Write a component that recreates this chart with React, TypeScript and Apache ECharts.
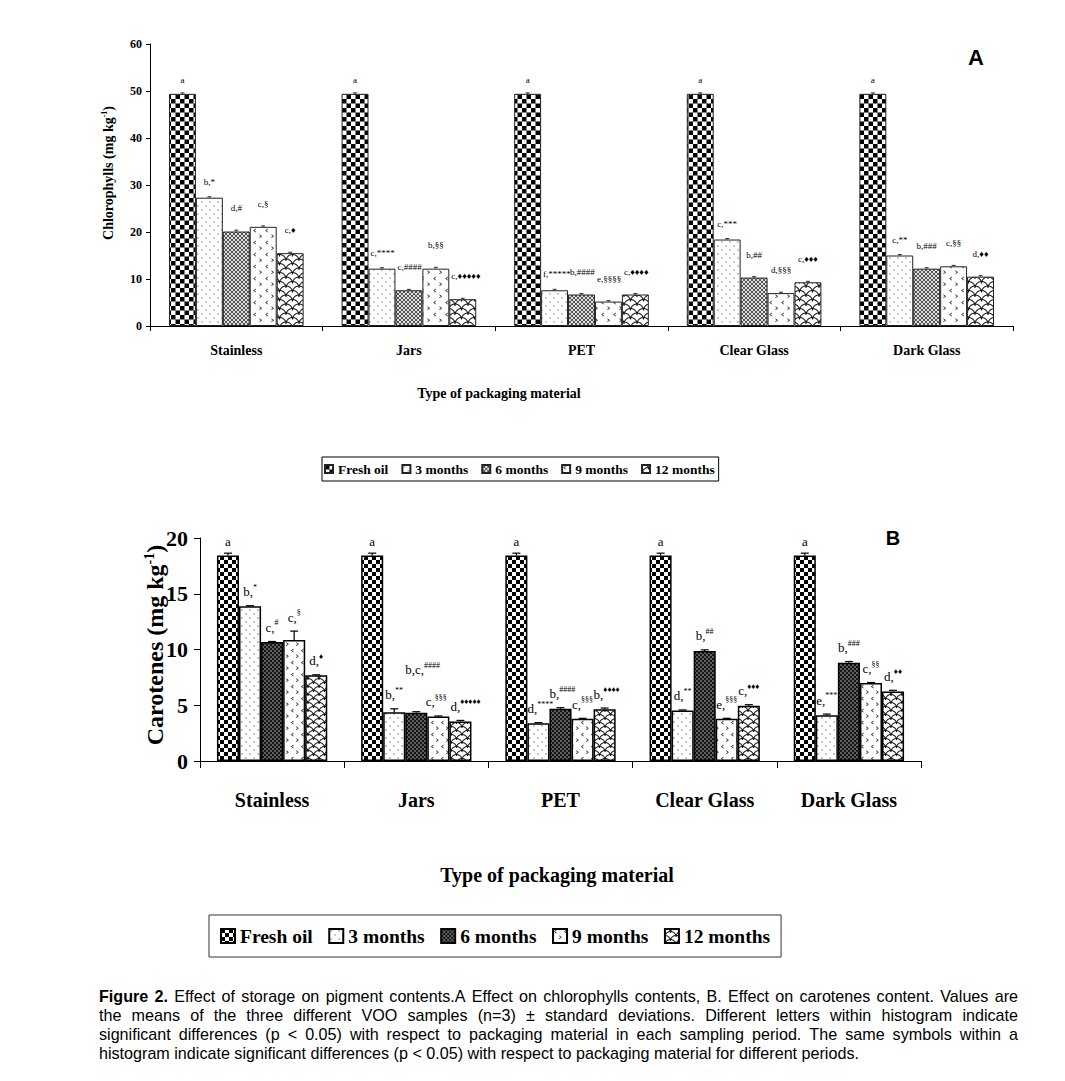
import React, { useEffect, useRef } from 'react';
import * as echarts from 'echarts';

// ---------- DATA ----------
const CATEGORIES = ['Stainless', 'Jars', 'PET', 'Clear Glass', 'Dark Glass'];
const PERIODS = ['Fresh oil', '3 months', '6 months', '9 months', '12 months'];

// Panel A: chlorophylls (mg/kg)
const CHL_FRESH = [49.4, 49.4, 49.4, 49.4, 49.4];
const CHL_3M = [27.3, 12.2, 7.6, 18.4, 15.0];
const CHL_6M = [20.1, 7.6, 6.7, 10.3, 12.2];
const CHL_9M = [21.1, 12.2, 5.2, 7.0, 12.7];
const CHL_12M = [15.5, 5.7, 6.7, 9.3, 10.5];
const CHL_ERR_FRESH = [0.2, 0.2, 0.2, 0.2, 0.2];
const CHL_ERR_3M = [0.2, 0.2, 0.2, 0.2, 0.2];
const CHL_ERR_6M = [0.3, 0.2, 0.2, 0.2, 0.2];
const CHL_ERR_9M = [0.2, 0.3, 0.2, 0.2, 0.2];
const CHL_ERR_12M = [0.2, 0.2, 0.2, 0.2, 0.2];
const CHL_LBL_FRESH = ['a', 'a', 'a', 'a', 'a'];
const CHL_LBL_3M = ['b,*', 'c,****', 'f,*****', 'c,***', 'c,**'];
const CHL_LBL_6M = ['d,#', 'c,####', 'b,####', 'b,##', 'b,###'];
const CHL_LBL_9M = ['c,§', 'b,§§', 'e,§§§§', 'd,§§§', 'c,§§'];
const CHL_LBL_12M = ['c,♦', 'c,♦♦♦♦♦', 'c,♦♦♦♦', 'c,♦♦♦', 'd,♦♦'];
const CHL_MIN = 0;
const CHL_MAX = 60;
const CHL_STEP = 10;

// Panel B: carotenes (mg/kg)
const CAR_FRESH = [18.44, 18.44, 18.44, 18.44, 18.44];
const CAR_3M = [13.88, 4.38, 3.39, 4.53, 4.11];
const CAR_6M = [10.67, 4.32, 4.68, 9.87, 8.82];
const CAR_9M = [10.85, 3.99, 3.78, 3.78, 6.99];
const CAR_12M = [7.68, 3.54, 4.65, 4.95, 6.24];
const CAR_ERR_FRESH = [0.2, 0.2, 0.2, 0.2, 0.2];
const CAR_ERR_3M = [0.05, 0.3, 0.05, 0.05, 0.1];
const CAR_ERR_6M = [0.05, 0.1, 0.1, 0.1, 0.1];
const CAR_ERR_9M = [0.8, 0.05, 0.05, 0.05, 0.05];
const CAR_ERR_12M = [0.05, 0.1, 0.1, 0.1, 0.1];
const CAR_LBL_FRESH = ['a', 'a', 'a', 'a', 'a'];
const CAR_LBL_3M = ['b,*', 'b,**', 'd,****', 'd,**', 'e,***'];
const CAR_LBL_6M = ['c,#', 'b,c,####', 'b,####', 'b,##', 'b,###'];
const CAR_LBL_9M = ['c,§', 'c,§§§', 'c,§§§', 'e,§§§', 'c,§§'];
const CAR_LBL_12M = ['d,♦', 'd,♦♦♦♦♦', 'b,♦♦♦♦', 'c,♦♦♦', 'd,♦♦'];
const CAR_MIN = 0;
const CAR_MAX = 20;
const CAR_STEP = 5;

const CAPTION_LINES = [
  'Figure 2. Effect of storage on pigment contents.A Effect on chlorophylls contents, B. Effect on carotenes content. Values are',
  'the means of the three different VOO samples (n=3) ± standard deviations. Different letters within histogram indicate',
  'significant differences (p < 0.05) with respect to packaging material in each sampling period. The same symbols within a',
  'histogram indicate significant differences (p < 0.05) with respect to packaging material for different periods.',
];

// ---------- STYLE ----------
const SERIF = '"Liberation Serif", "Times New Roman", Times, serif';
const SANS = '"Liberation Sans", Arial, sans-serif';
const CAPTION_FONT = '"Liberation Sans Narrow", "Arial Narrow", "Liberation Sans", Arial, sans-serif';
const ZW = '\u200b';

let measureCtx: CanvasRenderingContext2D | null = null;
function textWidth(t: string, font: string) {
  if (!measureCtx) measureCtx = document.createElement('canvas').getContext('2d');
  measureCtx!.font = font;
  return measureCtx!.measureText(t).width;
}

function tile(w: number, h: number, k: number, draw: (c: CanvasRenderingContext2D, w: number, h: number) => void) {
  const cv = document.createElement('canvas');
  cv.width = Math.round(w * k);
  cv.height = Math.round(h * k);
  const ctx = cv.getContext('2d')!;
  ctx.scale(k, k);
  ctx.fillStyle = '#fff';
  ctx.fillRect(0, 0, w, h);
  draw(ctx, w, h);
  return { image: cv, repeat: 'repeat', imageWidth: w, imageHeight: h };
}

const checker = (cell: number) =>
  tile(cell * 2, cell * 2, 4, (c, w, h) => {
    c.fillStyle = '#000';
    c.fillRect(0, 0, w / 2, h / 2);
    c.fillRect(w / 2, h / 2, w / 2, h / 2);
  });

const dots = (s: number, color: string) =>
  tile(s, s, 4, (c, w, h) => {
    c.fillStyle = color;
    c.beginPath();
    c.arc(w * 0.25, h * 0.25, 0.6, 0, Math.PI * 2);
    c.fill();
    c.beginPath();
    c.arc(w * 0.75, h * 0.75, 0.6, 0, Math.PI * 2);
    c.fill();
  });

const mesh = () =>
  tile(4, 4, 4, (c, w, h) => {
    c.strokeStyle = '#222';
    c.lineWidth = 0.75;
    c.beginPath();
    c.moveTo(0, 0); c.lineTo(w, h);
    c.moveTo(w, 0); c.lineTo(0, h);
    c.stroke();
  });

const darkMesh = () =>
  tile(4, 4, 4, (c, w, h) => {
    c.fillStyle = '#151515';
    c.fillRect(0, 0, w, h);
    c.fillStyle = '#bbb';
    c.beginPath(); c.arc(1, 1, 0.75, 0, Math.PI * 2); c.fill();
    c.beginPath(); c.arc(3, 3, 0.75, 0, Math.PI * 2); c.fill();
  });

const chevrons = (w0: number, h0: number) =>
  tile(w0, h0, 4, (c, w, h) => {
    c.strokeStyle = '#333';
    c.lineWidth = 0.8;
    const x0 = w * 0.15, y0 = h * 0.08;
    c.beginPath();
    c.moveTo(x0 + 2, y0); c.lineTo(x0, y0 + 1.6); c.lineTo(x0 + 2, y0 + 3.2);
    c.stroke();
    const x1 = w * 0.62, y1 = h * 0.55;
    c.beginPath();
    c.moveTo(x1, y1); c.lineTo(x1 + 2, y1 + 1.6); c.lineTo(x1, y1 + 3.2);
    c.stroke();
  });

const scales = (w0: number, h0: number, lw: number) =>
  tile(w0, h0, 4, (c, w, h) => {
    c.strokeStyle = '#111';
    c.lineWidth = lw;
    const r = w / 2;
    const domes = [[0, h / 2], [w, h / 2], [w / 2, h], [0, h * 1.5], [w, h * 1.5], [w / 2, 0]];
    domes.forEach(([cx, cy]) => {
      c.beginPath();
      c.arc(cx, cy, r, Math.PI, Math.PI * 2);
      c.stroke();
    });
  });

type Item = { cat: number; s: number; value: number; err: number; label: string; w: number };

function buildItems(vals: number[][], errs: number[][], labels: string[][], widthOf: (l: string) => number): Item[] {
  const out: Item[] = [];
  vals.forEach((arr, s) =>
    arr.forEach((v, c) => out.push({ cat: c, s, value: v, err: errs[s][c], label: labels[s][c], w: widthOf(labels[s][c]) }))
  );
  return out;
}

function errLabelSeries(items: Item[], axis: number, ratio: number, opt: any) {
  return {
    type: 'custom',
    xAxisIndex: axis,
    yAxisIndex: axis,
    z: 5,
    clip: false,
    silent: true,
    itemStyle: { color: '#000' },
    data: items.map((it) => [it.cat, it.value + it.err]),
    encode: { x: 0, y: 1 },
    renderItem: (params: any, api: any) => {
      const it = items[params.dataIndex];
      const band = api.size([1, 0])[0];
      const bw = band * ratio;
      const cx = api.coord([it.cat, 0])[0] + (it.s - 2) * bw;
      const yv = api.coord([it.cat, it.value])[1];
      const ye = api.coord([it.cat, it.value + it.err])[1];
      const children: any[] = [];
      if (it.err > 0) {
        children.push({ type: 'line', shape: { x1: cx, y1: yv, x2: cx, y2: ye }, style: { stroke: '#000', lineWidth: opt.lw } });
        children.push({ type: 'line', shape: { x1: cx - opt.cap, y1: ye, x2: cx + opt.cap, y2: ye }, style: { stroke: '#000', lineWidth: opt.lw } });
      }
      const key = `${it.cat}-${it.s}`;
      const lift = (opt.lift && opt.lift[key]) || 0;
      const shift = (opt.shift && opt.shift[key]) || 0;
      const leftX = Math.max(cx - bw / 2 + opt.pad, cx - it.w / 2) + shift;
      children.push({
        type: 'text',
        x: leftX,
        y: ye - opt.gap[it.s] - lift,
        style: {
          text: opt.fmt(it.label),
          rich: opt.rich,
          fill: '#000',
          textFill: '#000',
          fontSize: opt.fontSize,
          fontFamily: SERIF,
          align: 'left',
          verticalAlign: 'middle',
        },
      });
      return { type: 'group', children };
    },
  };
}

function captionElements(): any[] {
  const left = 99;
  const W = 1018 - 99;
  const fontOf = (bold: boolean, size: number) => `${bold ? 'bold ' : ''}${size}px ${CAPTION_FONT}`;
  const wOf = (t: string, bold: boolean, size: number) => textWidth(t, fontOf(bold, size));
  const lines = CAPTION_LINES.map((l) => l.split(' '));
  const isBold = (li: number, wi: number) => li === 0 && wi < 2;
  const natural = (li: number, size: number) =>
    lines[li].reduce((a, w, i) => a + wOf(w, isBold(li, i), size), 0) + (lines[li].length - 1) * wOf(' ', false, size);
  let size = 15;
  size = Math.min(17, (size * W * 0.965) / natural(0, size));
  const ys = [996, 1015, 1034, 1053];
  const els: any[] = [];
  lines.forEach((words, li) => {
    const widths = words.map((w, i) => wOf(w, isBold(li, i), size));
    const total = widths.reduce((a, b) => a + b, 0);
    const last = li === lines.length - 1;
    const gap = last ? wOf(' ', false, size) : (W - total) / (words.length - 1);
    let x = left;
    words.forEach((w, i) => {
      els.push({
        type: 'text',
        x,
        y: ys[li],
        silent: true,
        style: {
          text: w,
          font: fontOf(isBold(li, i), size),
          fill: '#000',
          align: 'left',
          verticalAlign: 'middle',
          textAlign: 'left',
          textVerticalAlign: 'middle',
        },
      });
      x += widths[i] + gap;
    });
  });
  return els;
}

function splitLabel(label: string) {
  const i = label.lastIndexOf(',');
  if (i < 0) return [label, ''];
  return [label.slice(0, i + 1), label.slice(i + 1)];
}

function supFmt(label: string) {
  const [a, b] = splitLabel(label);
  if (!b) return label;
  return `{n|${a}}{s|${b}}`;
}

function buildOption() {
  const patA = [checker(4.5), dots(8, '#444'), mesh(), chevrons(12, 12), scales(13, 9, 1)];
  const patB = [checker(4), dots(8, '#333'), darkMesh(), chevrons(10, 12), scales(11, 8, 1)];

  const CHL = [CHL_FRESH, CHL_3M, CHL_6M, CHL_9M, CHL_12M];
  const CHL_ERR = [CHL_ERR_FRESH, CHL_ERR_3M, CHL_ERR_6M, CHL_ERR_9M, CHL_ERR_12M];
  const CHL_LBL = [CHL_LBL_FRESH, CHL_LBL_3M, CHL_LBL_6M, CHL_LBL_9M, CHL_LBL_12M];
  const CAR = [CAR_FRESH, CAR_3M, CAR_6M, CAR_9M, CAR_12M];
  const CAR_ERR = [CAR_ERR_FRESH, CAR_ERR_3M, CAR_ERR_6M, CAR_ERR_9M, CAR_ERR_12M];
  const CAR_LBL = [CAR_LBL_FRESH, CAR_LBL_3M, CAR_LBL_6M, CAR_LBL_9M, CAR_LBL_12M];

  const RATIO_A = 0.156;
  const RATIO_B = 0.153;

  const barsA = PERIODS.map((p, s) => ({
    type: 'bar',
    name: p,
    xAxisIndex: 0,
    yAxisIndex: 0,
    data: CHL[s],
    barWidth: `${RATIO_A * 100}%`,
    barGap: '0%',
    itemStyle: { color: patA[s], borderColor: '#222', borderWidth: 1 },
  }));
  const barsB = PERIODS.map((p, s) => ({
    type: 'bar',
    name: p + ZW,
    xAxisIndex: 1,
    yAxisIndex: 1,
    data: CAR[s],
    barWidth: `${RATIO_B * 100}%`,
    barGap: '0%',
    itemStyle: { color: patB[s], borderColor: '#000', borderWidth: 1.5 },
  }));

  const widthA = (l: string) => textWidth(l, `9px ${SERIF}`);
  const widthB = (l: string) => {
    const [a, b] = splitLabel(l);
    return textWidth(a, `13px ${SERIF}`) + (b ? textWidth(b, `8px ${SERIF}`) : 0);
  };

  const extraA = errLabelSeries(buildItems(CHL, CHL_ERR, CHL_LBL, widthA), 0, RATIO_A, {
    lw: 0.8,
    cap: 2,
    pad: 2,
    gap: [13, 15, 22, 22, 22],
    fontSize: 9,
    fmt: (l: string) => l,
    rich: {},
  });
  const extraB = errLabelSeries(buildItems(CAR, CAR_ERR, CAR_LBL, widthB), 1, RATIO_B, {
    lw: 1.2,
    cap: 4,
    pad: 0,
    gap: [12, 15, 15, 15, 15],
    fontSize: 13,
    lift: { '1-2': 28 },
    shift: { '1-3': -2, '1-4': 1 },
    fmt: supFmt,
    rich: {
      n: { fontSize: 13, fontFamily: SERIF, fill: '#000', color: '#000', verticalAlign: 'bottom', lineHeight: 15 },
      s: { fontSize: 8, fontFamily: SERIF, fill: '#000', color: '#000', verticalAlign: 'top', lineHeight: 15 },
    },
  });

  const axisLineBlack = { show: true, lineStyle: { color: '#000', width: 1 } };

  return {
    animation: false,
    backgroundColor: '#fff',
    grid: [
      { left: 150, top: 44, width: 863, height: 282 },
      { left: 200, top: 538, width: 721, height: 223 },
    ],
    xAxis: [
      {
        type: 'category',
        gridIndex: 0,
        data: CATEGORIES,
        axisLine: axisLineBlack,
        axisTick: { show: true, length: 5, alignWithLabel: false, lineStyle: { color: '#000' } },
        axisLabel: { margin: 17, color: '#000', fontFamily: SERIF, fontWeight: 'bold', fontSize: 14 },
        splitLine: { show: false },
      },
      {
        type: 'category',
        gridIndex: 1,
        data: CATEGORIES,
        axisLine: axisLineBlack,
        axisTick: { show: true, length: 7, alignWithLabel: false, lineStyle: { color: '#000' } },
        axisLabel: { margin: 29, color: '#000', fontFamily: SERIF, fontWeight: 'bold', fontSize: 20 },
        splitLine: { show: false },
      },
    ],
    yAxis: [
      {
        type: 'value',
        gridIndex: 0,
        min: CHL_MIN,
        max: CHL_MAX,
        interval: CHL_STEP,
        axisLine: axisLineBlack,
        axisTick: { show: true, length: 4, lineStyle: { color: '#000' } },
        axisLabel: { margin: 8, color: '#000', fontFamily: SERIF, fontWeight: 'bold', fontSize: 12 },
        splitLine: { show: false },
      },
      {
        type: 'value',
        gridIndex: 1,
        min: CAR_MIN,
        max: CAR_MAX,
        interval: CAR_STEP,
        axisLine: axisLineBlack,
        axisTick: { show: true, length: 6, lineStyle: { color: '#000' } },
        axisLabel: { margin: 12, color: '#000', fontFamily: SERIF, fontWeight: 'bold', fontSize: 22 },
        splitLine: { show: false },
      },
    ],
    legend: [
      {
        data: PERIODS,
        left: 322,
        top: 457,
        orient: 'horizontal',
        icon: 'rect',
        itemWidth: 8,
        itemHeight: 8,
        itemGap: 13,
        padding: [5, 4, 5, 2],
        borderColor: '#000',
        borderWidth: 1,
        selectedMode: false,
        textStyle: { fontFamily: SERIF, fontWeight: 'bold', fontSize: 13.5, color: '#000' },
      },
      {
        data: PERIODS.map((p) => p + ZW),
        formatter: (n: string) => n.replace(/\u200b/g, ''),
        left: 209,
        top: 915,
        orient: 'horizontal',
        icon: 'rect',
        itemWidth: 14,
        itemHeight: 14,
        itemGap: 15.5,
        padding: [11, 11, 11, 11],
        borderColor: '#333',
        borderWidth: 1,
        selectedMode: false,
        textStyle: { fontFamily: SERIF, fontWeight: 'bold', fontSize: 19.5, color: '#000' },
      },
    ],
    graphic: [
      {
        type: 'text',
        x: 976,
        y: 57,
        silent: true,
        style: { text: 'A', font: `bold 22px ${SANS}`, fill: '#000', align: 'center', verticalAlign: 'middle', textAlign: 'center', textVerticalAlign: 'middle' },
      },
      {
        type: 'text',
        x: 893,
        y: 538,
        silent: true,
        style: { text: 'B', font: `bold 20px ${SANS}`, fill: '#000', align: 'center', verticalAlign: 'middle', textAlign: 'center', textVerticalAlign: 'middle' },
      },
      {
        type: 'text',
        x: 499,
        y: 393,
        silent: true,
        style: { text: 'Type of packaging material', font: `bold 14px ${SERIF}`, fill: '#000', align: 'center', verticalAlign: 'middle', textAlign: 'center', textVerticalAlign: 'middle' },
      },
      {
        type: 'text',
        x: 557,
        y: 875,
        silent: true,
        style: { text: 'Type of packaging material', font: `bold 20px ${SERIF}`, fill: '#000', align: 'center', verticalAlign: 'middle', textAlign: 'center', textVerticalAlign: 'middle' },
      },
      {
        type: 'text',
        x: 108,
        y: 173,
        rotation: Math.PI / 2,
        silent: true,
        style: {
          text: 'Chlorophylls (mg kg{s|-1})',
          font: `bold 14px ${SERIF}`,
          fill: '#000',
          align: 'center',
          verticalAlign: 'middle',
          textAlign: 'center',
          textVerticalAlign: 'middle',
          rich: { s: { fontSize: 8, fontWeight: 'bold', fontFamily: SERIF, verticalAlign: 'top', lineHeight: 16 } },
        },
      },
      {
        type: 'text',
        x: 155,
        y: 645,
        rotation: Math.PI / 2,
        silent: true,
        style: {
          text: 'Carotenes (mg kg{s|-1})',
          font: `bold 24px ${SERIF}`,
          fill: '#000',
          align: 'center',
          verticalAlign: 'middle',
          textAlign: 'center',
          textVerticalAlign: 'middle',
          rich: { s: { fontSize: 14, fontWeight: 'bold', fontFamily: SERIF, verticalAlign: 'top', lineHeight: 26 } },
        },
      },
      ...captionElements(),
    ],
    series: [...barsA, ...barsB, extraA, extraB],
  };
}

export default function App() {
  const ref = useRef<HTMLDivElement>(null);
  useEffect(() => {
    if (!ref.current) return;
    const chart = echarts.init(ref.current, null, { renderer: 'svg' });
    chart.setOption(buildOption() as any);
    return () => chart.dispose();
  }, []);
  return (
    <div
      ref={ref}
      style={{ position: 'absolute', left: 0, top: 0, width: 1065, height: 1081, background: '#fff' }}
    />
  );
}
